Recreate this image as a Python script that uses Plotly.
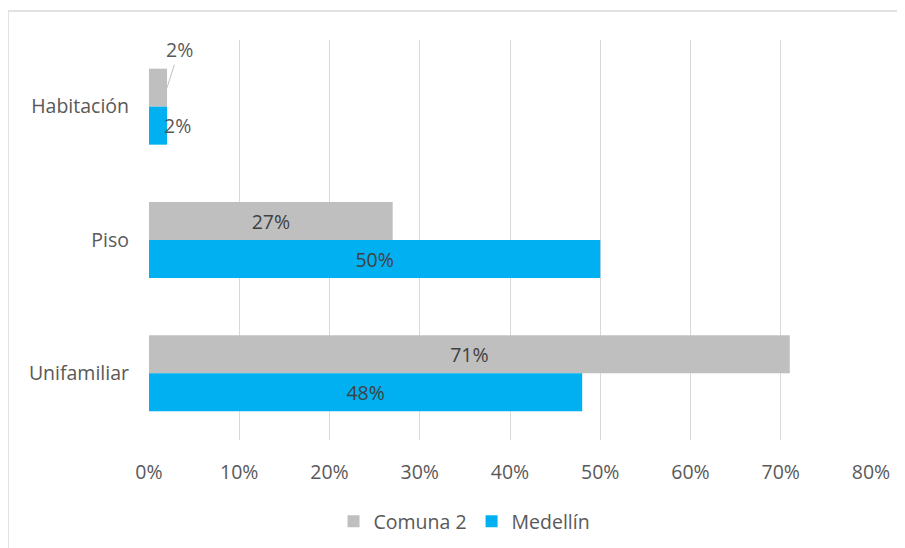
import plotly.graph_objects as go

categories = ["Habitación", "Piso", "Unifamiliar"]
comuna2 = [2, 27, 71]
medellin = [2, 50, 48]
series_names = ["Comuna 2", "Medellín"]
tick_vals = [0, 10, 20, 30, 40, 50, 60, 70, 80]
tick_labels = [f"{v}%" for v in tick_vals]

GRAY = "#BFBFBF"
BLUE = "#00B0F0"
FONT = "Open Sans"
TXT = "#595959"
FS = 19.5

def inside_text(vals):
    return [f"{v}%" if v >= 5 else "" for v in vals]

fig = go.Figure()
for name, vals, col in [(series_names[0], comuna2, GRAY), (series_names[1], medellin, BLUE)]:
    fig.add_trace(go.Bar(
        y=categories, x=vals, name=name, orientation="h",
        marker=dict(color=col, line=dict(width=0)),
        text=inside_text(vals), textposition="inside", insidetextanchor="middle",
        textfont=dict(family=FONT, size=FS, color="#404040"),
        hoverinfo="x+y+name",
    ))

annotations = []
for i, cat in enumerate(categories):
    if comuna2[i] < 5:
        annotations.append(dict(
            x=comuna2[i], y=cat, xref="x", yref="y", yshift=19,
            text=f"{comuna2[i]}%", showarrow=True, arrowhead=0, arrowwidth=1,
            arrowcolor="#BFBFBF", ax=12, ay=-38, standoff=0,
            font=dict(family=FONT, size=FS, color=TXT),
        ))
    if medellin[i] < 5:
        annotations.append(dict(
            x=medellin[i], y=cat, xref="x", yref="y", yshift=-19, xshift=10,
            text=f"{medellin[i]}%", showarrow=False,
            font=dict(family=FONT, size=FS, color=TXT),
        ))

# page has an 8px body margin; plot area: x 149..871, y 40..440 in the picture
L, T, PW, PH = 141, 32, 722, 400
fig.update_layout(
    width=905, height=548,
    paper_bgcolor="white", plot_bgcolor="white",
    margin=dict(l=L, r=905 - L - PW, t=T, b=548 - T - PH),
    barmode="group", bargap=0.43, bargroupgap=0,
    font=dict(family=FONT, size=FS, color=TXT),
    xaxis=dict(range=[0, 80], tickvals=tick_vals, ticktext=tick_labels,
               showgrid=True, gridcolor="#D9D9D9", gridwidth=1,
               zeroline=False, showline=False, ticks="", ticklen=0,
               ticklabelstandoff=18,
               tickfont=dict(family=FONT, size=FS, color=TXT), fixedrange=True),
    yaxis=dict(autorange="reversed", showgrid=False, showline=False, ticks="",
               ticklabelstandoff=19,
               tickfont=dict(family=FONT, size=FS, color=TXT)),
    legend=dict(orientation="h", x=0.437, xanchor="center", y=-0.155, yanchor="top",
                font=dict(family=FONT, size=FS, color=TXT), itemwidth=30,
                traceorder="normal"),
    annotations=annotations,
    shapes=[dict(type="rect", xref="paper", yref="paper",
                 x0=(8 - 149) / PW, x1=(930 - 149) / PW,
                 y0=(440 - 570) / PH, y1=(440 - 11) / PH,
                 line=dict(color="#D9D9D9", width=1.5), fillcolor="rgba(0,0,0,0)",
                 layer="below")],
)

fig.write_html("out.html")
